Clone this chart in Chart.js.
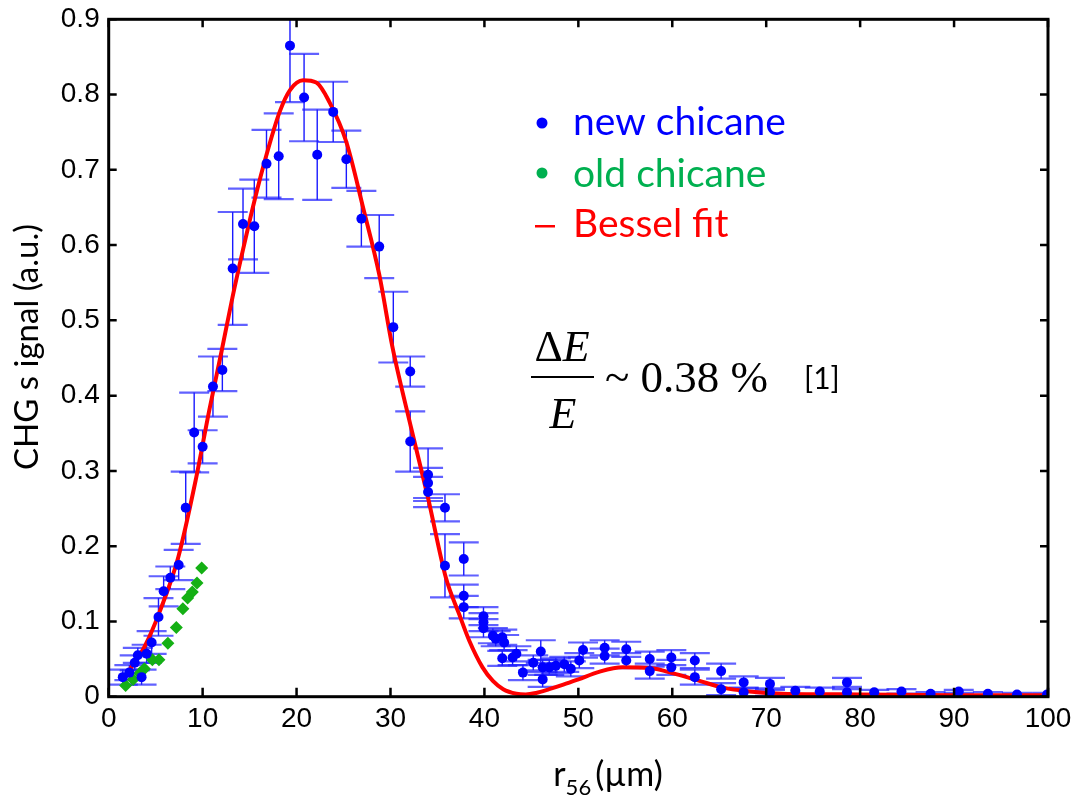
<!DOCTYPE html>
<html>
<head>
<meta charset="utf-8">
<script src="https://cdn.jsdelivr.net/npm/chart.js@4.4.1/dist/chart.umd.min.js"></script>
<style>
  html, body { margin: 0; padding: 0; background: #fff; }
</style>
</head>
<body>
<canvas id="chart" width="1075" height="796"></canvas>
<script>
// new chicane: r56 (um), CHG signal (a.u.), error half-height
const newX = [1.5, 2.2, 2.77, 3.1, 3.5, 4.04, 4.57, 5.3, 5.85, 6.56, 7.45, 8.2, 9.1, 10.0, 11.1, 12.1,
  13.2, 14.3, 15.5, 16.8, 18.1, 19.3, 20.8, 22.2, 23.9, 25.3, 26.9, 28.8, 30.3, 32.1, 32.1, 34.0,
  34.0, 34.0, 35.8, 35.8, 37.8, 37.8, 37.8, 39.9, 39.9, 39.9, 40.9, 41.2, 41.9, 42.1, 41.9, 43.0,
  43.4, 44.1, 45.2, 46.0, 46.2, 46.2, 46.9, 47.6, 48.5, 49.2, 50.1, 50.5, 52.8, 52.8, 55.1, 55.1,
  57.6, 57.6, 59.9, 59.9, 62.4, 62.4, 65.2, 65.2, 67.6, 67.6, 70.4, 70.4, 73.1, 75.7, 78.6, 78.6,
  81.5, 84.4, 87.5, 90.5, 93.6, 96.7, 99.9];
const newY = [0.026, 0.032, 0.045, 0.055, 0.026, 0.057, 0.072, 0.106, 0.14, 0.158, 0.175, 0.251, 0.351, 0.332, 0.412, 0.434,
  0.569, 0.628, 0.625, 0.708, 0.718, 0.865, 0.796, 0.72, 0.777, 0.714, 0.635, 0.598, 0.491, 0.432, 0.339, 0.295,
  0.284, 0.272, 0.251, 0.174, 0.183, 0.134, 0.119, 0.107, 0.099, 0.091, 0.081, 0.077, 0.079, 0.072, 0.051, 0.052,
  0.057, 0.032, 0.045, 0.060, 0.023, 0.039, 0.039, 0.041, 0.043, 0.037, 0.048, 0.062, 0.065, 0.054, 0.063, 0.048,
  0.05, 0.034, 0.052, 0.039, 0.048, 0.026, 0.034, 0.01, 0.019, 0.006, 0.017, 0.006, 0.008, 0.007, 0.019, 0.006,
  0.006, 0.007, 0.004, 0.007, 0.004, 0.003, 0.003];
const newErr = [0.01, 0.01, 0.01, 0.01, 0.01, 0.012, 0.015, 0.025, 0.02, 0.015, 0.02, 0.048, 0.053, 0.022, 0.04, 0.028,
  0.075, 0.047, 0.062, 0.045, 0.057, 0.075, 0.058, 0.06, 0.04, 0.038, 0.037, 0.042, 0.047, 0.02, 0.04, 0.035,
  0.02, 0.02, 0.018, 0.042, 0.022, 0.015, 0.015, 0.012, 0.012, 0.012, 0.01, 0.01, 0.01, 0.01, 0.01, 0.01,
  0.01, 0.01, 0.01, 0.015, 0.01, 0.01, 0.01, 0.01, 0.01, 0.01, 0.01, 0.01, 0.01, 0.01, 0.01, 0.01,
  0.01, 0.01, 0.01, 0.01, 0.01, 0.01, 0.01, 0.008, 0.008, 0.006, 0.008, 0.005, 0.005, 0.005, 0.006, 0.004,
  0.003, 0.003, 0.002, 0.002, 0.002, 0.002, 0.002];

// old chicane
const oldX = [1.8, 2.6, 3.3, 3.8, 4.65, 5.35, 6.3, 7.2, 7.9, 8.4, 8.9, 9.4, 9.9];
const oldY = [0.015, 0.023, 0.031, 0.037, 0.049, 0.049, 0.071, 0.092, 0.117, 0.131, 0.139, 0.151, 0.171];

// Bessel fit curve
const fitX = [1.5, 2.4, 3.8, 5.4, 7.4, 9.3, 10.7, 12.0, 13.2, 14.3, 15.5, 16.8, 18.2, 19.3, 20.7, 22.1,
  23.5, 25.3, 27.1, 28.8, 30.2, 32.2, 34.0, 35.9, 37.3, 38.4, 39.8, 40.9, 42.0, 43.4, 44.4, 45.5, 46.9,
  48.4, 50.0, 52.2, 54.7, 57.6, 60.4, 62.9, 65.4, 68.2, 71.7, 80, 90, 100];
const fitY = [0.02, 0.039, 0.066, 0.112, 0.185, 0.29, 0.38, 0.458, 0.532, 0.594, 0.658, 0.72, 0.777, 0.806, 0.819, 0.816,
  0.79, 0.737, 0.649, 0.561, 0.465, 0.357, 0.264, 0.158, 0.11, 0.074, 0.039, 0.021, 0.01, 0.004, 0.003, 0.005, 0.01,
  0.016, 0.023, 0.033, 0.039, 0.038, 0.03, 0.021, 0.012, 0.007, 0.004, 0.003, 0.002, 0.002];

const xTicks = [0, 10, 20, 30, 40, 50, 60, 70, 80, 90, 100];
const yTicks = [0, 0.1, 0.2, 0.3, 0.4, 0.5, 0.6, 0.7, 0.8, 0.9];

const TICK_FONT = "'Liberation Sans Narrow', 'Liberation Sans', Arial, sans-serif";
const LABEL_FONT = "Lato, 'Open Sans', sans-serif";
const SERIF = "'Liberation Serif', 'Times New Roman', serif";

function toPoints(xs, ys) {
  return xs.map((x, i) => ({ x: x, y: ys[i] }));
}

// vertical error bars with wide caps, under the curves
const errorBarPlugin = {
  id: 'errorBars',
  beforeDatasetsDraw(chart) {
    const ctx = chart.ctx;
    const xs = chart.scales.x, ys = chart.scales.y;
    const area = chart.chartArea;
    ctx.save();
    ctx.beginPath();
    ctx.rect(area.left, area.top, area.right - area.left, area.bottom - area.top);
    ctx.clip();
    for (let i = 0; i < newX.length; i++) {
      const px = xs.getPixelForValue(newX[i]);
      const top = ys.getPixelForValue(newY[i] + newErr[i]);
      const bot = ys.getPixelForValue(newY[i] - newErr[i]);
      ctx.strokeStyle = '#1a1aff';
      ctx.lineWidth = 1.4;
      ctx.beginPath();
      ctx.moveTo(px, top);
      ctx.lineTo(px, bot);
      ctx.stroke();
      ctx.strokeStyle = 'rgba(30,30,255,0.7)';
      ctx.lineWidth = 2.2;
      ctx.beginPath();
      ctx.moveTo(px - 15, top); ctx.lineTo(px + 15, top);
      ctx.moveTo(px - 15, bot); ctx.lineTo(px + 15, bot);
      ctx.stroke();
    }
    ctx.restore();
  }
};

// box frame with inward ticks, plus titles and annotations
const framePlugin = {
  id: 'frame',
  afterDraw(chart) {
    const ctx = chart.ctx;
    const xs = chart.scales.x, ys = chart.scales.y;
    const a = chart.chartArea;
    ctx.save();
    ctx.strokeStyle = '#000';
    ctx.lineWidth = 3;
    ctx.strokeRect(a.left, a.top, a.right - a.left, a.bottom - a.top);
    ctx.lineWidth = 2.5;
    ctx.beginPath();
    xTicks.forEach(v => {
      const px = xs.getPixelForValue(v);
      ctx.moveTo(px, a.bottom); ctx.lineTo(px, a.bottom - 9);
      ctx.moveTo(px, a.top); ctx.lineTo(px, a.top + 8);
    });
    yTicks.forEach(v => {
      const py = ys.getPixelForValue(v);
      ctx.moveTo(a.left, py); ctx.lineTo(a.left + 8, py);
      ctx.moveTo(a.right, py); ctx.lineTo(a.right - 8, py);
    });
    ctx.stroke();

    // y axis title
    ctx.fillStyle = '#000';
    ctx.save();
    ctx.translate(27, 347);
    ctx.rotate(-Math.PI / 2);
    ctx.font = '33px ' + LABEL_FONT;
    ctx.textAlign = 'center';
    ctx.textBaseline = 'middle';
    ctx.fillText('CHG s ignal (a.u.)', 0, 0);
    ctx.restore();

    // x axis title with subscript
    ctx.textBaseline = 'alphabetic';
    ctx.textAlign = 'left';
    ctx.font = '34px ' + LABEL_FONT;
    const rW = ctx.measureText('r').width;
    ctx.font = '22px ' + LABEL_FONT;
    const sW = ctx.measureText('56').width;
    ctx.font = '34px ' + LABEL_FONT;
    const pW = ctx.measureText('(µm)').width;
    let tx = 608 - (rW + sW + 4 + pW) / 2;
    ctx.fillText('r', tx, 786);
    ctx.font = '22px ' + LABEL_FONT;
    ctx.fillText('56', tx + rW, 795);
    ctx.font = '34px ' + LABEL_FONT;
    ctx.fillText('(µm)', tx + rW + sW + 4, 786);

    // legend
    ctx.font = '39px ' + LABEL_FONT;
    ctx.fillStyle = '#0000ff';
    ctx.beginPath(); ctx.arc(542, 123, 5.5, 0, Math.PI * 2); ctx.fill();
    ctx.fillText('new chicane', 573, 135);
    ctx.fillStyle = '#00b050';
    ctx.beginPath(); ctx.arc(542, 173, 5.5, 0, Math.PI * 2); ctx.fill();
    ctx.fillText('old chicane', 573, 187);
    ctx.fillStyle = '#ff0000';
    ctx.fillRect(535, 225, 20, 2.5);
    ctx.fillText('Bessel fit', 573, 237);

    // energy spread formula
    ctx.fillStyle = '#000';
    ctx.font = '44px ' + SERIF;
    const dW = ctx.measureText('Δ').width;
    ctx.font = 'italic 44px ' + SERIF;
    const eW = ctx.measureText('E').width;
    const fx = 562 - (dW + eW) / 2;
    ctx.font = '44px ' + SERIF;
    ctx.fillText('Δ', fx, 361);
    ctx.font = 'italic 44px ' + SERIF;
    ctx.fillText('E', fx + dW, 361);
    ctx.fillRect(531, 376, 63, 2);
    ctx.textAlign = 'center';
    ctx.fillText('E', 563, 428);
    ctx.textAlign = 'left';
    ctx.font = '45px ' + SERIF;
    ctx.fillText('~ 0.38 %', 605, 392);
    ctx.font = '30px ' + LABEL_FONT;
    ctx.fillText('[1]', 804, 389);
    ctx.restore();
  }
};

const chart = new Chart(document.getElementById('chart').getContext('2d'), {
  type: 'scatter',
  data: {
    datasets: [
      {
        label: 'new chicane',
        data: toPoints(newX, newY),
        pointStyle: 'circle',
        pointRadius: 5,
        backgroundColor: '#0000ff',
        borderColor: '#0000ff',
        borderWidth: 0,
        order: 0
      },
      {
        label: 'old chicane',
        data: toPoints(oldX, oldY),
        pointStyle: 'rectRot',
        pointRadius: 6.5,
        backgroundColor: '#14b014',
        borderColor: '#14b014',
        borderWidth: 0,
        order: 1
      },
      {
        label: 'Bessel fit',
        type: 'line',
        data: toPoints(fitX, fitY),
        borderColor: '#ff0000',
        borderWidth: 4,
        pointRadius: 0,
        cubicInterpolationMode: 'monotone',
        fill: false,
        order: 2
      }
    ]
  },
  options: {
    responsive: false,
    animation: false,
    devicePixelRatio: 1,
    layout: { padding: { left: 0, right: 27, top: 19.3, bottom: 0 } },
    plugins: {
      legend: { display: false },
      tooltip: { enabled: false }
    },
    scales: {
      x: {
        type: 'linear',
        min: 0,
        max: 100,
        afterBuildTicks: s => { s.ticks = xTicks.map(v => ({ value: v })); },
        afterFit: s => {
          s.height = 99.3;
          s.paddingLeft = 0;
          s.paddingRight = 0;
        },
        grid: { display: false, drawTicks: false },
        border: { display: false },
        ticks: {
          padding: 6,
          maxRotation: 0,
          autoSkip: false,
          color: '#000',
          font: { family: TICK_FONT, size: 28 }
        }
      },
      y: {
        type: 'linear',
        min: 0,
        max: 0.9,
        afterBuildTicks: s => { s.ticks = yTicks.map(v => ({ value: v })); },
        afterFit: s => {
          s.width = 108.7;
          s.paddingTop = 0;
          s.paddingBottom = 0;
        },
        grid: { display: false, drawTicks: false },
        border: { display: false },
        ticks: {
          padding: 9,
          autoSkip: false,
          color: '#000',
          font: { family: TICK_FONT, size: 28 },
          callback: v => v === 0 ? '0' : v.toFixed(1)
        }
      }
    }
  },
  plugins: [errorBarPlugin, framePlugin]
});
</script>
</body>
</html>
